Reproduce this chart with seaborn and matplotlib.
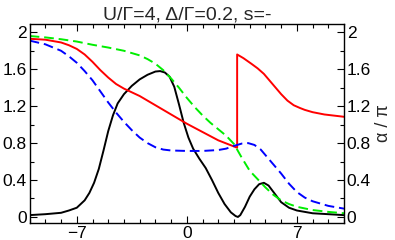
import matplotlib
matplotlib.use("Agg")
import matplotlib.pyplot as plt
import seaborn as sns
import pandas as pd
from matplotlib.ticker import MultipleLocator

# values (x in units of Gamma, y = alpha/pi)
black_x = [-10, -9, -8, -7.5, -7, -6.5, -6.2, -5.9, -5.6, -5.3, -5.0, -4.7, -4.4, -4.0, -3.5, -3.0, -2.5, -2.0, -1.7, -1.4, -1.1, -0.8, -0.5, -0.2, 0.1, 0.4, 0.8, 1.2, 1.6, 2.0, 2.4, 2.8, 3.1, 3.25, 3.4, 3.7, 4.0, 4.3, 4.6, 4.9, 5.2, 5.6, 6.0, 6.5, 7.0, 8.0, 9.0, 10]
black_y = [0.02, 0.03, 0.045, 0.07, 0.1, 0.18, 0.26, 0.37, 0.52, 0.72, 0.93, 1.10, 1.23, 1.33, 1.42, 1.49, 1.54, 1.575, 1.58, 1.565, 1.52, 1.41, 1.22, 1.02, 0.86, 0.74, 0.63, 0.53, 0.40, 0.26, 0.14, 0.05, 0.01, 0.0, 0.02, 0.11, 0.22, 0.30, 0.355, 0.37, 0.34, 0.25, 0.16, 0.10, 0.07, 0.04, 0.03, 0.02]

red_x = [-10, -9, -8, -7.5, -7, -6.5, -6, -5.5, -5, -4.5, -4, -3, -2, -1, 0, 1, 2, 3.2, 3.2, 3.6, 4.1, 4.5, 4.9, 5.2, 5.6, 6.0, 6.4, 6.8, 7.2, 7.5, 8.0, 8.75, 10]
red_y = [1.93, 1.92, 1.89, 1.86, 1.82, 1.76, 1.68, 1.59, 1.51, 1.44, 1.39, 1.31, 1.21, 1.11, 1.01, 0.92, 0.83, 0.75, 1.76, 1.72, 1.66, 1.61, 1.55, 1.49, 1.41, 1.33, 1.26, 1.21, 1.18, 1.16, 1.135, 1.11, 1.085]

green_x = [-10, -9, -8, -7, -6, -5, -4, -3, -2.5, -2, -1.5, -1, -0.5, 0, 0.5, 1, 1.5, 2, 2.5, 3, 3.5, 4, 4.5, 5, 5.5, 6, 6.5, 7, 8, 9, 10]
green_y = [1.96, 1.945, 1.925, 1.90, 1.865, 1.835, 1.80, 1.75, 1.71, 1.66, 1.59, 1.50, 1.40, 1.29, 1.19, 1.10, 1.02, 0.95, 0.88, 0.79, 0.64, 0.50, 0.41, 0.32, 0.24, 0.18, 0.14, 0.11, 0.075, 0.055, 0.04]

blue_x = [-10, -9, -8, -7.5, -7, -6.5, -6, -5.5, -5, -4.5, -4, -3.5, -3, -2.5, -2, -1.5, -1, 0, 1, 2, 2.5, 3, 3.5, 3.9, 4.3, 4.7, 5, 5.5, 6, 6.5, 7, 7.5, 8, 9, 10]
blue_y = [1.91, 1.87, 1.80, 1.74, 1.67, 1.58, 1.48, 1.36, 1.24, 1.13, 1.03, 0.94, 0.86, 0.80, 0.755, 0.73, 0.72, 0.715, 0.715, 0.725, 0.74, 0.77, 0.795, 0.80, 0.78, 0.73, 0.67, 0.57, 0.47, 0.36, 0.27, 0.21, 0.17, 0.12, 0.09]

sns.set_theme(style="ticks")
plt.rcParams["font.family"] = ["Liberation Sans", "DejaVu Sans"]

fig, ax = plt.subplots(figsize=(3.95, 2.4), dpi=100)

series = [
    (black_x, black_y, "black", None),
    (red_x, red_y, "#ff0000", None),
    (green_x, green_y, "#00ee00", (5, 2.5)),
    (blue_x, blue_y, "#0000ff", (5, 2.5)),
]
for xs, ys, col, dash in series:
    df = pd.DataFrame({"x": xs, "y": ys})
    ls = (0, dash) if dash else "-"
    sns.lineplot(data=df, x="x", y="y", ax=ax, color=col, lw=1.4,
                 estimator=None, sort=False, linestyle=ls)

ax.set_xlim(-10, 10)
ax.set_ylim(-0.065, 2.09)
ax.set_xticks([-7, 0, 7])
ax.set_yticks([0, 0.4, 0.8, 1.2, 1.6, 2])
ax.set_yticklabels(["0", "0.4", "0.8", "1.2", "1.6", "2"])
ax.xaxis.set_minor_locator(MultipleLocator(1))
ax.yaxis.set_minor_locator(MultipleLocator(0.2))
ax.tick_params(which="both", direction="in", top=True, right=True,
               labelright=True, labelsize=12.5, color="black", labelcolor="black")
ax.tick_params(which="major", length=5, width=0.8, pad=2)
ax.tick_params(which="minor", length=3, width=0.8)
for s in ax.spines.values():
    s.set_color("black")
    s.set_linewidth(1.0)

ax.set_xlabel("")
ax.yaxis.set_label_position("right")
ax.set_ylabel("α / π", fontsize=13, labelpad=3)
ax.set_title("U/Γ=4, Δ/Γ=0.2, s=-", fontsize=14, pad=3)

fig.subplots_adjust(left=0.075, right=0.871, top=0.9, bottom=0.071)
fig.savefig("out.png", dpi=100)
